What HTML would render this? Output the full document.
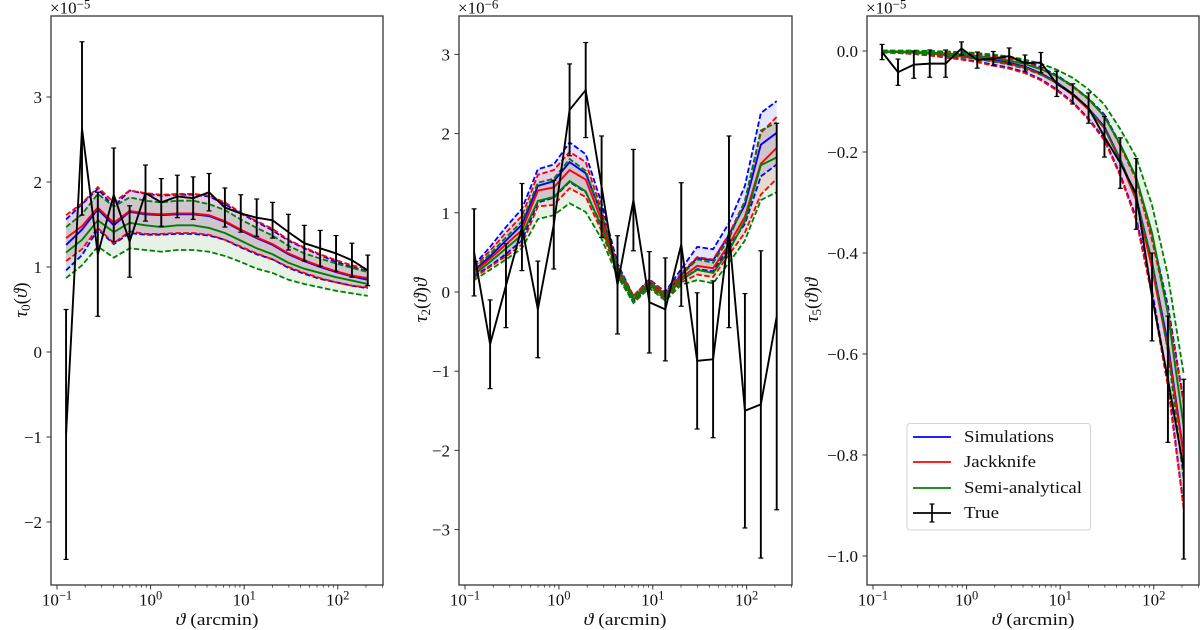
<!DOCTYPE html>
<html>
<head>
<meta charset="utf-8">
<title>Covariance comparison chart</title>
<style>
html,body{margin:0;padding:0;background:#fff;width:1200px;height:630px;overflow:hidden}
svg{display:block;font-size:17px}
text{font-family:"Liberation Serif","DejaVu Serif",serif;fill:#111}
.it{font-style:italic}
</style>
</head>
<body>
<svg id="figure" xmlns="http://www.w3.org/2000/svg" width="1200" height="630" viewBox="0 0 1200 630">
  <rect x="0" y="0" width="1200" height="630" fill="#fff"/>
  <g id="marks"></g>

  <text x="50" y="13.5" font-size="17">×10<tspan dy="-5" font-size="13">−5</tspan></text>
  <text x="458" y="13.5" font-size="17">×10<tspan dy="-5" font-size="13">−6</tspan></text>
  <text x="866" y="13.5" font-size="17">×10<tspan dy="-5" font-size="13">−5</tspan></text>

  <text font-size="19" text-anchor="middle" transform="translate(27 300) rotate(-90)"><tspan class="it">τ</tspan><tspan dy="3" font-size="13">0</tspan><tspan dy="-3">(</tspan><tspan class="it">ϑ</tspan>)</text>
  <text font-size="19" text-anchor="middle" transform="translate(427 300) rotate(-90)"><tspan class="it">τ</tspan><tspan dy="3" font-size="13">2</tspan><tspan dy="-3">(</tspan><tspan class="it">ϑ</tspan>)<tspan class="it">ϑ</tspan></text>
  <text font-size="19" text-anchor="middle" transform="translate(818 300) rotate(-90)"><tspan class="it">τ</tspan><tspan dy="3" font-size="13">5</tspan><tspan dy="-3">(</tspan><tspan class="it">ϑ</tspan>)<tspan class="it">ϑ</tspan></text>

  <text x="175.5" y="625" font-size="17" textLength="83" lengthAdjust="spacingAndGlyphs"><tspan class="it">ϑ</tspan> (arcmin)</text>
  <text x="583.5" y="625" font-size="17" textLength="83" lengthAdjust="spacingAndGlyphs"><tspan class="it">ϑ</tspan> (arcmin)</text>
  <text x="991.5" y="625" font-size="17" textLength="83" lengthAdjust="spacingAndGlyphs"><tspan class="it">ϑ</tspan> (arcmin)</text>

  <g>
    <rect x="907" y="423.5" width="183.5" height="106.5" rx="3" fill="#fff" fill-opacity="0.85" stroke="#d4d4d4" stroke-width="1"/>
    <line x1="913" x2="951" y1="437" y2="437" stroke="#0000ff" stroke-width="1.7"/>
    <text x="964" y="442" font-size="17" textLength="90" lengthAdjust="spacingAndGlyphs">Simulations</text>
    <line x1="913" x2="951" y1="462" y2="462" stroke="#ff0000" stroke-width="1.7"/>
    <text x="964" y="467" font-size="17" textLength="72" lengthAdjust="spacingAndGlyphs">Jackknife</text>
    <line x1="913" x2="951" y1="488" y2="488" stroke="#008000" stroke-width="1.7"/>
    <text x="964" y="493" font-size="17" textLength="118" lengthAdjust="spacingAndGlyphs">Semi-analytical</text>
    <line x1="913" x2="951" y1="513" y2="513" stroke="#000" stroke-width="1.7"/>
    <line x1="932" x2="932" y1="504" y2="522" stroke="#000" stroke-width="1.7"/>
    <line x1="929.5" x2="934.5" y1="504" y2="504" stroke="#000" stroke-width="1.2"/>
    <line x1="929.5" x2="934.5" y1="522" y2="522" stroke="#000" stroke-width="1.2"/>
    <text x="964" y="518" font-size="17" textLength="35" lengthAdjust="spacingAndGlyphs">True</text>
  </g>
</svg>

<script>
const thetas = [0.125,0.185,0.273,0.404,0.597,0.882,1.30,1.93,2.85,4.21,6.22,9.19,13.6,20.1,29.7,43.9,64.8,95.8,141.6,209];

const xTickExponents = [-1,0,1,2];
const xTickLabels = ['−1','0','1','2'];
const xMinorMultipliers = [2,3,4,5,6,7,8,9];

const tau0Ticks = [3,2,1,0,-1,-2];
const tau0TickLabels = ['3','2','1','0','−1','−2'];
const tau0SimMean = [1.26,1.44,1.68,1.49,1.65,1.62,1.61,1.62,1.62,1.60,1.53,1.43,1.34,1.26,1.15,1.07,1.00,0.94,0.89,0.85];
const tau0SimErr = [0.30,0.30,0.24,0.22,0.25,0.24,0.23,0.23,0.23,0.23,0.21,0.20,0.19,0.17,0.16,0.15,0.14,0.12,0.11,0.10];
const tau0JackMean = [1.34,1.48,1.70,1.52,1.66,1.63,1.62,1.63,1.63,1.61,1.54,1.44,1.35,1.27,1.16,1.08,1.01,0.95,0.90,0.87];
const tau0JackErr = [0.27,0.27,0.24,0.24,0.24,0.24,0.23,0.23,0.23,0.23,0.22,0.20,0.19,0.18,0.16,0.15,0.14,0.13,0.12,0.11];
const tau0SemiMean = [1.17,1.32,1.55,1.41,1.52,1.49,1.47,1.49,1.49,1.46,1.40,1.31,1.22,1.15,1.05,0.98,0.93,0.88,0.84,0.80];
const tau0SemiErr = [0.30,0.30,0.31,0.30,0.30,0.29,0.29,0.29,0.29,0.28,0.27,0.25,0.24,0.22,0.20,0.18,0.17,0.16,0.15,0.14];
const tau0TrueMean = [-0.97,2.63,1.15,1.85,1.30,1.87,1.76,1.83,1.81,1.88,1.70,1.63,1.58,1.55,1.41,1.28,1.22,1.16,1.08,0.96];
const tau0TrueErr = [1.47,1.02,0.73,0.55,0.42,0.33,0.28,0.25,0.25,0.22,0.23,0.22,0.22,0.21,0.21,0.21,0.21,0.21,0.20,0.18];

const tau2Ticks = [3,2,1,0,-1,-2,-3];
const tau2TickLabels = ['3','2','1','0','−1','−2','−3'];
const tau2SimMean = [0.27,0.45,0.65,0.85,1.34,1.40,1.64,1.50,0.98,0.30,-0.09,0.12,-0.04,0.22,0.43,0.40,0.72,1.10,1.86,2.01];
const tau2SimErr = [0.07,0.12,0.17,0.20,0.21,0.21,0.25,0.24,0.14,0.06,0.04,0.04,0.04,0.07,0.14,0.14,0.15,0.24,0.40,0.40];
const tau2JackMean = [0.25,0.42,0.60,0.78,1.28,1.32,1.54,1.42,0.90,0.28,-0.09,0.11,-0.05,0.18,0.33,0.30,0.60,0.95,1.62,1.82];
const tau2JackErr = [0.07,0.10,0.15,0.18,0.20,0.22,0.23,0.22,0.13,0.05,0.04,0.04,0.04,0.06,0.11,0.11,0.13,0.20,0.39,0.39];
const tau2SemiMean = [0.22,0.38,0.55,0.72,1.15,1.20,1.40,1.27,0.82,0.26,-0.10,0.09,-0.07,0.15,0.28,0.24,0.52,0.90,1.60,1.70];
const tau2SemiErr = [0.07,0.10,0.14,0.17,0.23,0.23,0.28,0.26,0.15,0.06,0.04,0.04,0.04,0.06,0.13,0.13,0.15,0.25,0.44,0.44];
const tau2TrueMean = [0.50,-0.66,0.08,0.82,-0.22,0.85,2.30,2.55,1.33,0.09,1.16,-0.13,-0.22,0.60,-0.87,-0.85,0.76,-1.50,-1.42,-0.31];
const tau2TrueErr = [0.55,0.56,0.53,0.55,0.61,0.56,0.58,0.60,0.64,0.62,0.64,0.64,0.65,0.78,0.86,0.99,1.21,1.48,1.94,2.44];

const tau5Ticks = [0,-0.2,-0.4,-0.6,-0.8,-1.0];
const tau5TickLabels = ['0.0','−0.2','−0.4','−0.6','−0.8','−1.0'];
const tau5SimMean = [-0.001,-0.002,-0.003,-0.005,-0.007,-0.010,-0.014,-0.018,-0.023,-0.031,-0.044,-0.062,-0.085,-0.114,-0.150,-0.215,-0.290,-0.420,-0.580,-0.800];
const tau5SimErr = [0.002,0.002,0.003,0.004,0.005,0.006,0.007,0.009,0.010,0.011,0.012,0.014,0.016,0.020,0.024,0.030,0.040,0.055,0.075,0.105];
const tau5JackMean = [-0.001,-0.002,-0.003,-0.005,-0.008,-0.011,-0.015,-0.020,-0.025,-0.033,-0.046,-0.064,-0.087,-0.116,-0.153,-0.218,-0.295,-0.430,-0.590,-0.803];
const tau5JackErr = [0.002,0.002,0.003,0.004,0.005,0.006,0.007,0.009,0.010,0.011,0.012,0.014,0.016,0.020,0.024,0.030,0.040,0.055,0.075,0.104];
const tau5SemiMean = [-0.001,-0.001,-0.002,-0.003,-0.005,-0.007,-0.010,-0.014,-0.019,-0.026,-0.036,-0.050,-0.069,-0.095,-0.130,-0.185,-0.250,-0.360,-0.520,-0.745];
const tau5SemiErr = [0.002,0.002,0.003,0.003,0.004,0.005,0.006,0.007,0.008,0.009,0.011,0.013,0.016,0.019,0.024,0.030,0.040,0.055,0.075,0.105];
const tau5TrueMean = [-0.002,-0.042,-0.027,-0.025,-0.025,0.005,-0.018,-0.015,-0.010,-0.024,-0.023,-0.065,-0.085,-0.113,-0.170,-0.222,-0.283,-0.487,-0.650,-0.828];
const tau5TrueErr = [0.015,0.026,0.027,0.027,0.027,0.013,0.016,0.014,0.016,0.016,0.020,0.025,0.020,0.030,0.040,0.050,0.070,0.087,0.125,0.178];

const SVGNS = 'http://www.w3.org/2000/svg';
const root = document.getElementById('marks');

function make(parent, tag, attrs) {
  const el = document.createElementNS(SVGNS, tag);
  for (const k in attrs) el.setAttribute(k, attrs[k]);
  parent.appendChild(el);
  return el;
}

function drawPanel(cfg) {
  const g = make(root, 'g', {});
  
  

  const xLogMin = -1.0641, xLogMax = 2.4830;
  const xScale = v => cfg.left + (Math.log10(v) - xLogMin) / (xLogMax - xLogMin) * (cfg.right - cfg.left);
  const yScale = v => cfg.top + (cfg.yMax - v) / (cfg.yMax - cfg.yMin) * (cfg.bottom - cfg.top);
  const pointList = arr => arr.map((v, i) => xScale(thetas[i]).toFixed(2) + ',' + yScale(v).toFixed(2));
  const points = arr => pointList(arr).join(' ');
  const offset = (m, e, s) => m.map((v, i) => v + s * e[i]);

  cfg.series.forEach(s => {
    const upperPts = pointList(offset(s.mean, s.err, 1));
    const lowerPts = pointList(offset(s.mean, s.err, -1)).reverse();
    const band = make(g, 'polygon', {
      points: upperPts.concat(lowerPts).join(' '),
      fill: s.color, 'fill-opacity': 0.1, stroke: 'none'
    });
    
    
  });

  cfg.series.forEach(s => {
    const upperLine = make(g, 'polyline', {
      points: points(offset(s.mean, s.err, 1)), fill: 'none', stroke: s.color,
      'stroke-width': 1.8, 'stroke-dasharray': '5.5 2.4'
    });
    
    

    const lowerLine = make(g, 'polyline', {
      points: points(offset(s.mean, s.err, -1)), fill: 'none', stroke: s.color,
      'stroke-width': 1.8, 'stroke-dasharray': '5.5 2.4'
    });
    
    

    const meanLine = make(g, 'polyline', {
      points: points(s.mean), fill: 'none', stroke: s.color, 'stroke-width': 1.9
    });
    
    
  });

  const trueLine = make(g, 'polyline', {
    points: points(cfg.trueMean), fill: 'none', stroke: '#000', 'stroke-width': 1.9, 'stroke-linejoin': 'miter'
  });
  
  

  cfg.trueMean.forEach((v, i) => {
    const x = xScale(thetas[i]);
    const yHi = yScale(v + cfg.trueErr[i]);
    const yLo = yScale(v - cfg.trueErr[i]);
    const bar = make(g, 'line', { x1: x, x2: x, y1: yHi, y2: yLo, stroke: '#000', 'stroke-width': 1.9 });
    
    
    const capTop = make(g, 'line', { x1: x - 2.5, x2: x + 2.5, y1: yHi, y2: yHi, stroke: '#000', 'stroke-width': 1.2 });
    
    
    const capBottom = make(g, 'line', { x1: x - 2.5, x2: x + 2.5, y1: yLo, y2: yLo, stroke: '#000', 'stroke-width': 1.2 });
    
    
  });

  const frame = make(g, 'rect', {
    x: cfg.left, y: cfg.top, width: cfg.right - cfg.left, height: cfg.bottom - cfg.top,
    fill: 'none', stroke: '#444', 'stroke-width': 1.4
  });
  
  

  xTickExponents.forEach((e, i) => {
    const x = xScale(Math.pow(10, e));
    const tick = make(g, 'line', { x1: x, x2: x, y1: cfg.bottom, y2: cfg.bottom + 4.5, stroke: '#333', 'stroke-width': 1 });
    
    

    const label = make(g, 'text', { x: x, y: 605.5, 'text-anchor': 'middle', 'font-size': 17 });
    
    
    label.textContent = '10';
    const sup = make(label, 'tspan', { dy: -6, 'font-size': 12.5 });
    sup.textContent = xTickLabels[i];

    xMinorMultipliers.forEach(m => {
      const mx = xScale(m * Math.pow(10, e));
      if (mx < cfg.right) {
        const minor = make(g, 'line', { x1: mx, x2: mx, y1: cfg.bottom, y2: cfg.bottom + 2.6, stroke: '#333', 'stroke-width': 0.8 });
        
        
      }
    });
  });

  cfg.yTicks.forEach((v, i) => {
    const y = yScale(v);
    const tick = make(g, 'line', { x1: cfg.left - 4.5, x2: cfg.left, y1: y, y2: y, stroke: '#333', 'stroke-width': 1 });
    
    
    const label = make(g, 'text', { x: cfg.left - 9, y: y + 6, 'text-anchor': 'end', 'font-size': 17 });
    
    
    label.textContent = cfg.yTickLabels[i];
  });
}

drawPanel({
  name: 'tau0', left: 51, right: 383, top: 16, bottom: 585, yMax: 3.953, yMin: -2.741,
  yTicks: tau0Ticks, yTickLabels: tau0TickLabels,
  series: [
    { key: 'simulations', color: '#0000ff', mean: tau0SimMean, err: tau0SimErr },
    { key: 'jackknife', color: '#ff0000', mean: tau0JackMean, err: tau0JackErr },
    { key: 'semi-analytical', color: '#008000', mean: tau0SemiMean, err: tau0SemiErr }
  ],
  trueMean: tau0TrueMean, trueErr: tau0TrueErr
});

drawPanel({
  name: 'tau2', left: 459, right: 792, top: 16, bottom: 585, yMax: 3.485, yMin: -3.70,
  yTicks: tau2Ticks, yTickLabels: tau2TickLabels,
  series: [
    { key: 'simulations', color: '#0000ff', mean: tau2SimMean, err: tau2SimErr },
    { key: 'jackknife', color: '#ff0000', mean: tau2JackMean, err: tau2JackErr },
    { key: 'semi-analytical', color: '#008000', mean: tau2SemiMean, err: tau2SemiErr }
  ],
  trueMean: tau2TrueMean, trueErr: tau2TrueErr
});

drawPanel({
  name: 'tau5', left: 867, right: 1199, top: 16, bottom: 585, yMax: 0.0693, yMin: -1.0574,
  yTicks: tau5Ticks, yTickLabels: tau5TickLabels,
  series: [
    { key: 'simulations', color: '#0000ff', mean: tau5SimMean, err: tau5SimErr },
    { key: 'jackknife', color: '#ff0000', mean: tau5JackMean, err: tau5JackErr },
    { key: 'semi-analytical', color: '#008000', mean: tau5SemiMean, err: tau5SemiErr }
  ],
  trueMean: tau5TrueMean, trueErr: tau5TrueErr
});
</script>
</body>
</html>
